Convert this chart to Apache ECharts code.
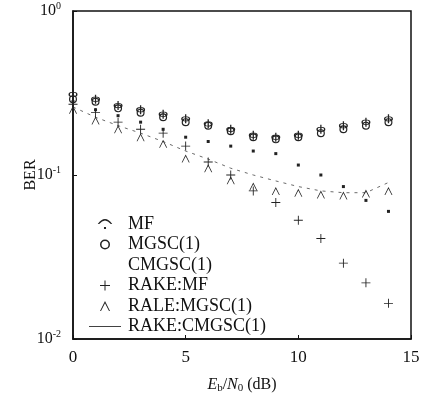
<!DOCTYPE html>
<html><head><meta charset="utf-8">
<script src="https://cdn.jsdelivr.net/npm/echarts@6/dist/echarts.min.js"></script>
<style>html,body{margin:0;padding:0;background:#fff}#c{width:423px;height:399px}</style>
</head><body><div id="c"></div>
<script>
const snr = [0,1,2,3,4,5,6,7,8,9,10,11,12,13,14];
const mf      = [0.31,0.29,0.265,0.25,0.235,0.22,0.205,0.19,0.175,0.17,0.175,0.19,0.20,0.21,0.22];
const mgsc    = [0.29,0.28,0.255,0.24,0.225,0.21,0.20,0.185,0.17,0.165,0.17,0.18,0.19,0.20,0.21];
const cmgsc   = [0.28,0.25,0.23,0.21,0.19,0.17,0.16,0.15,0.14,0.135,0.115,0.10,0.085,0.07,0.06];
const rakeMf  = [0.27,0.24,0.21,0.19,0.18,0.15,0.12,0.10,0.08,0.068,0.053,0.041,0.029,0.022,0.0165];
const rakeMgsc= [0.25,0.215,0.19,0.17,0.155,0.126,0.11,0.093,0.085,0.08,0.078,0.076,0.075,0.077,0.08];
const rakeCm  = [0.26,0.225,0.20,0.18,0.16,0.14,0.125,0.11,0.10,0.092,0.085,0.08,0.078,0.078,0.09];
const names = ['MF','MGSC(1)','CMGSC(1)','RAKE:MF','RALE:MGSC(1)','RAKE:CMGSC(1)'];
const xTicks = [0,5,10,15];

const pair = a => a.map((v,i)=>[snr[i],v]);
const PHI = 'path://M5,1.5A3.5,3.5 0 1,1 4.99,1.5Z M5,2.6A2.4,2.4 0 1,0 5.01,2.6Z M4.5,-1H5.5V11H4.5Z';
const RING = 'path://M5,1A4,4 0 1,1 4.99,1Z M5,2.2A2.8,2.8 0 1,0 5.01,2.2Z';
const PLUS = 'path://M4.5,0H5.5V4.5H10V5.5H5.5V10H4.5V5.5H0V4.5H4.5Z';
const CARET = 'path://M0,10L5,0L10,10L9,10L5,2.2L1,10Z';
const HAT = 'path://M0,6Q5,-1 10,6L9,6Q5,1 1,6Z M4.3,8H5.7V9.4H4.3Z';
const DOT = 'path://M0,0H2V2H0Z';
const LINE = 'path://M0,4.6H30V5.4H0Z';
const serif = 'Liberation Serif';

const mk = (name, data, symbol, size) => ({
  name, type:'line', data: pair(data), symbol, symbolSize: size,
  lineStyle:{width:0, opacity:0}, itemStyle:{color:'#222'}, z:3
});

const chart = echarts.init(document.getElementById('c'), null, {renderer:'canvas'});
chart.setOption({
  animation:false,
  backgroundColor:'#fff',
  grid:{left:73, right:12, top:11, bottom:56, show:true, borderColor:'#111', borderWidth:1.5},
  xAxis:{type:'value', min:0, max:15, interval:5,
    axisLine:{lineStyle:{color:'#111', width:1.5}},
    axisTick:{inside:true, length:4, lineStyle:{color:'#111'}},
    splitLine:{show:false},
    axisLabel:{fontFamily:serif, fontSize:17, color:'#111', margin:10, formatter:v=> xTicks.includes(v)? String(v):''},
    name:'{i|E}{s|b}{n|/}{i|N}{s|0}{n| (dB)}', nameLocation:'middle', nameGap:36,
    nameTextStyle:{rich:{
      i:{fontFamily:serif, fontStyle:'italic', fontSize:16, color:'#111'},
      n:{fontFamily:serif, fontSize:16, color:'#111'},
      s:{fontFamily:serif, fontSize:11, color:'#111', verticalAlign:'bottom', padding:[8,0,0,0]}
    }}
  },
  yAxis:{type:'log', logBase:10, min:0.01, max:1,
    axisLine:{lineStyle:{color:'#111', width:1.5}},
    axisTick:{inside:true, length:4, lineStyle:{color:'#111'}},
    minorTick:{show:false},
    splitLine:{show:false},
    axisLabel:{margin:12, formatter:v=>{
      const e = Math.round(Math.log10(v));
      return '{b|10}{e|' + e + '}';
    }, rich:{
      b:{fontFamily:serif, fontSize:16, color:'#111'},
      e:{fontFamily:serif, fontSize:10, color:'#111', verticalAlign:'top', padding:[0,0,9,0]}
    }},
    name:'BER', nameLocation:'middle', nameGap:34, nameRotate:90, nameMoveOverlap:false,
    nameTextStyle:{fontFamily:serif, fontSize:16, color:'#111'}
  },
  legend:{left:84, top:210, orient:'vertical', itemGap:2.5, itemWidth:32, itemHeight:10,
    textStyle:{fontFamily:serif, fontSize:18, color:'#111', padding:[0,0,0,2]},
    data:[
      {name:names[0], icon:HAT},
      {name:names[1], icon:RING},
      {name:names[2], icon:DOT, itemStyle:{opacity:0}},
      {name:names[3], icon:PLUS},
      {name:names[4], icon:CARET},
      {name:names[5], icon:LINE, itemStyle:{color:'#222'}}
    ]
  },
  series:[
    mk(names[0], mf, PHI, 9),
    mk(names[1], mgsc, RING, 8),
    mk(names[2], cmgsc, DOT, 3),
    mk(names[3], rakeMf, PLUS, 9),
    mk(names[4], rakeMgsc, CARET, 8),
    {name:names[5], type:'line', data:pair(rakeCm), symbol:'none', showSymbol:false,
     lineStyle:{width:0.8, color:'#444', type:[3,5]}, itemStyle:{color:'#444'}, z:2}
  ]
});
</script></body></html>
